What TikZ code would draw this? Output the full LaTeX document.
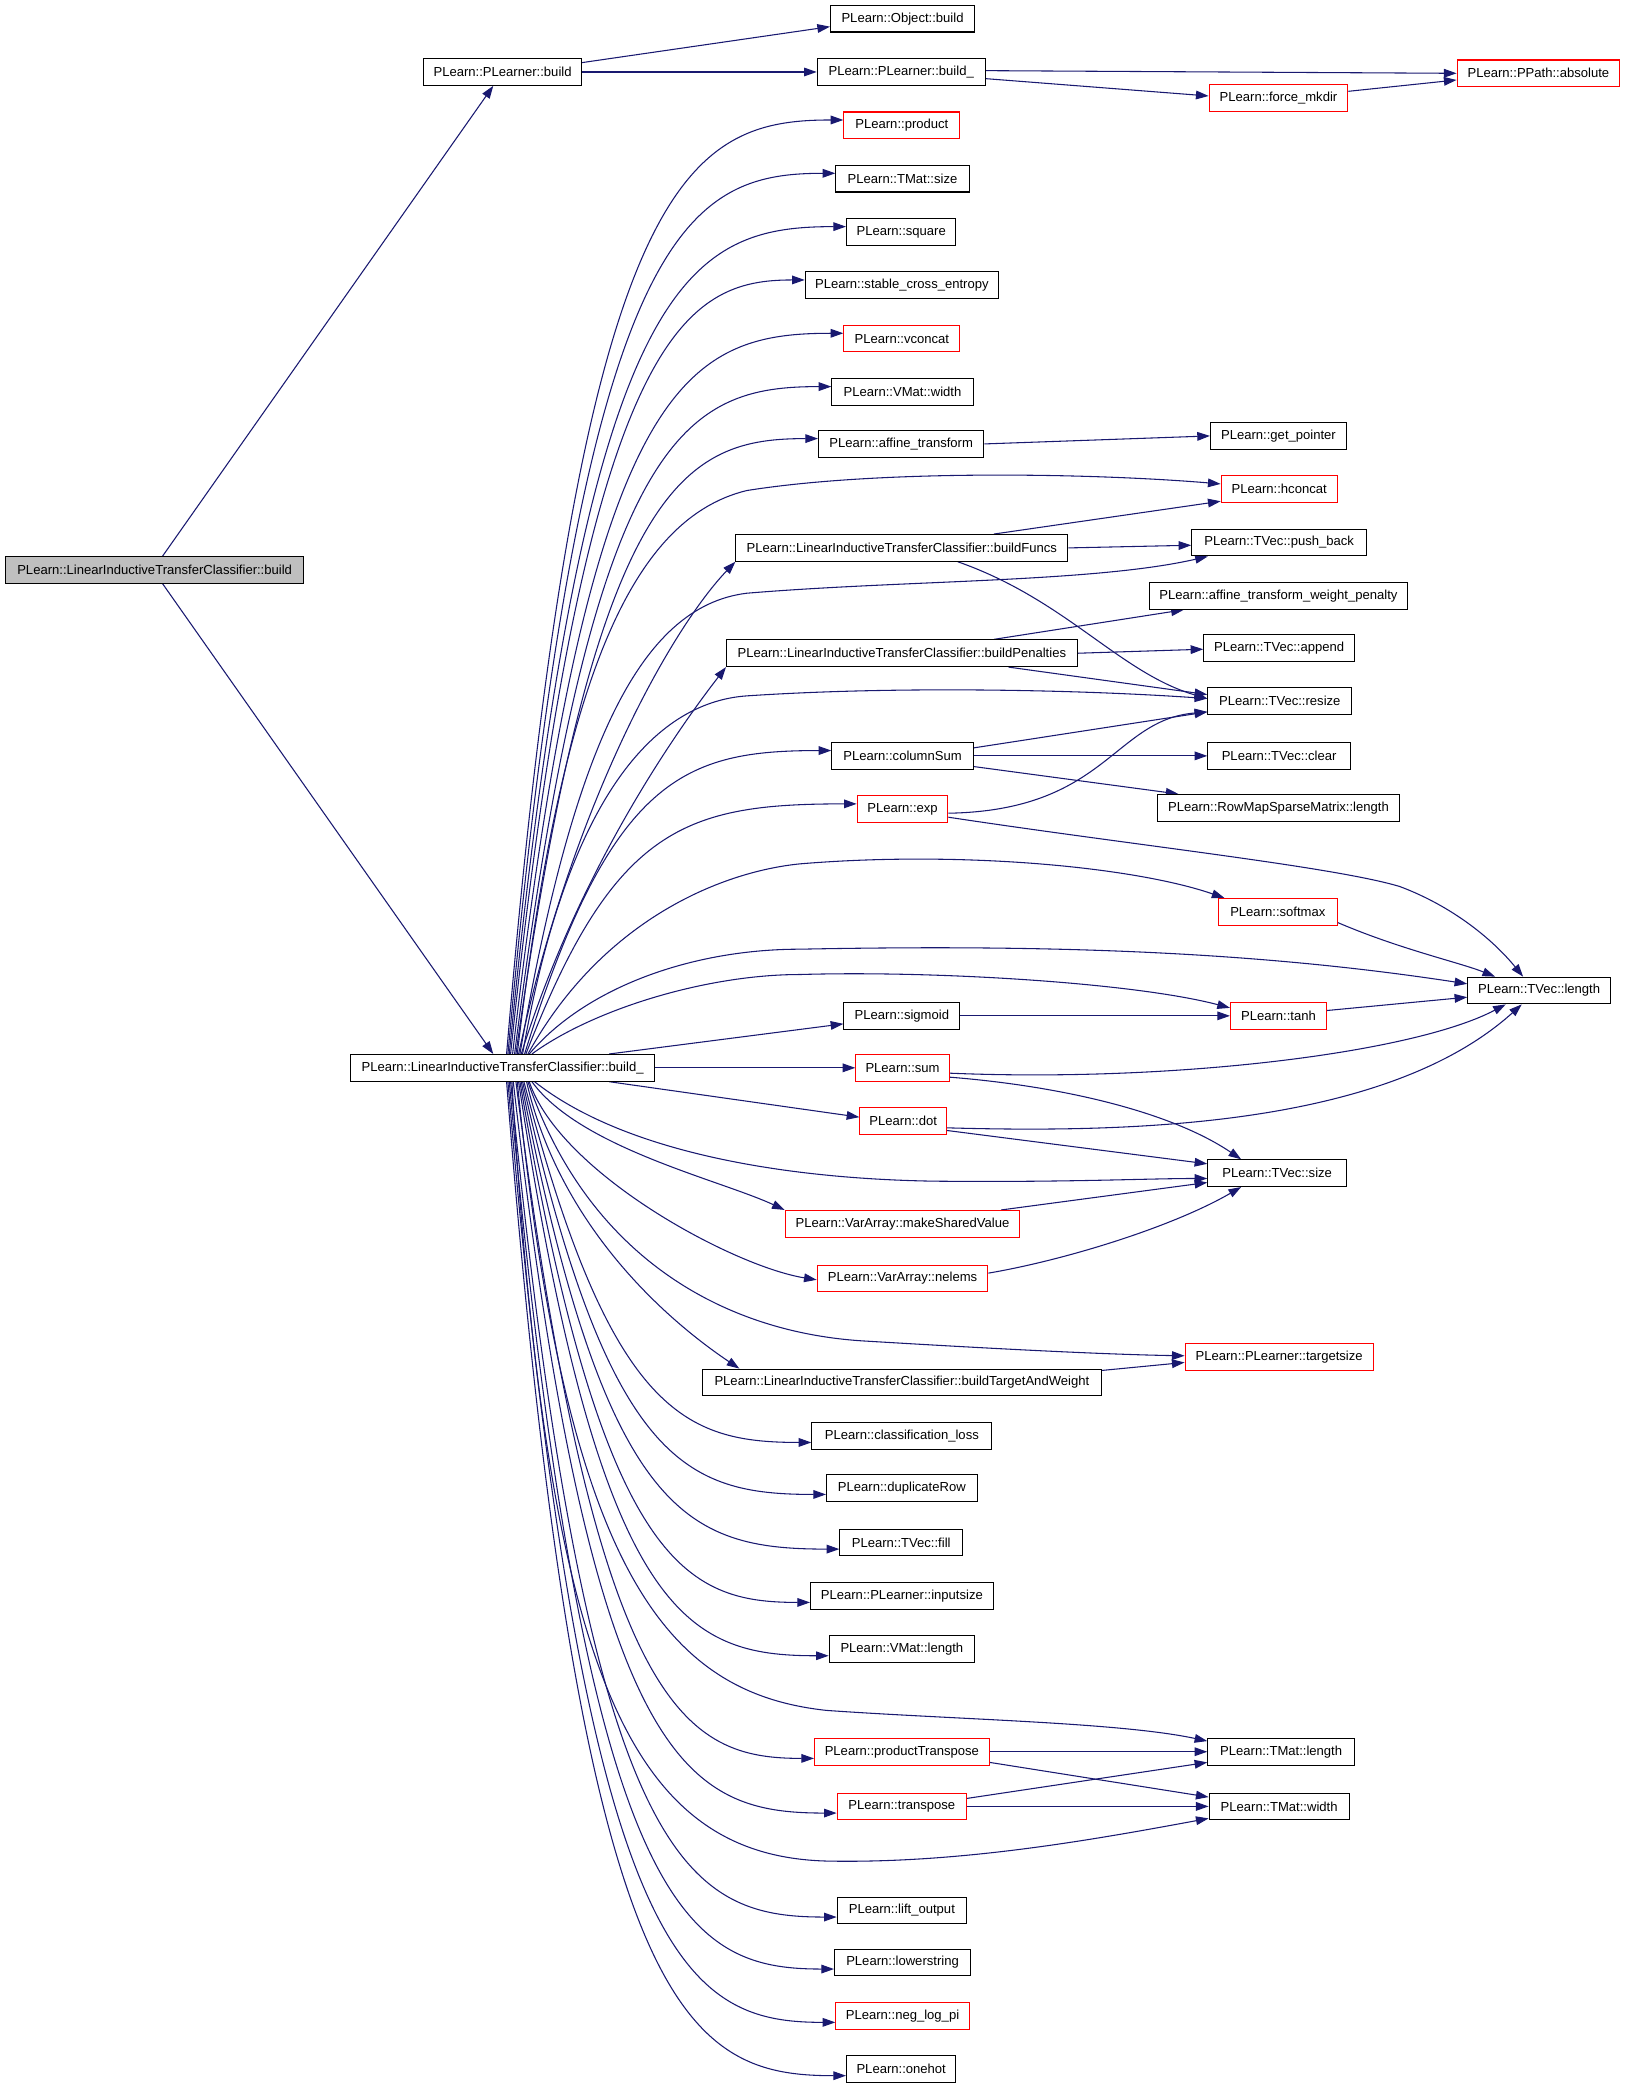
\documentclass[tikz,border=0pt]{standalone}
\usepackage{fontspec}
\setmainfont{Liberation Sans}
\usetikzlibrary{arrows.meta}
\definecolor{edgeblue}{HTML}{191970}
\definecolor{nodegrey}{HTML}{BFBFBF}
\pgfdeclarelayer{bg}
\pgfsetlayers{bg,main}
\tikzset{
  box/.style={draw=black, fill=white, line width=0.8pt, minimum height=20pt, inner xsep=2pt, inner ysep=0pt, font=\fontsize{9.8}{11}\selectfont},
  rbox/.style={box, draw=red},
  gbox/.style={box, fill=nodegrey},
  edge/.style={draw=edgeblue, line width=0.8pt, -{Triangle[length=9.5pt,width=6.5pt]}},
}
\newcommand\fanup[5]{\draw[edge] ([xshift=#2pt]bu.north) .. controls +(#3,#4) and +(#5,0) .. ([yshift=4pt]#1.west);}
\newcommand\fandown[5]{\draw[edge] ([xshift=#2pt]bu.south) .. controls +(#3,#4) and +(#5,0) .. ([yshift=-5pt]#1.west);}
\begin{document}
\begin{tikzpicture}[x=1pt,y=-1pt]
\useasboundingbox (0,0) rectangle (1222,1570);
% nodes
\node[gbox, minimum width=224pt] (main) at (116,427.5) {PLearn::LinearInductiveTransferClassifier::build};
\node[box, minimum width=118pt] (plb) at (377,54) {PLearn::PLearner::build};
\node[box, minimum width=108pt] (ob) at (677,14) {PLearn::Object::build};
\node[box, minimum width=126pt] (pbu) at (676,54) {PLearn::PLearner::build\_};
\node[rbox, minimum width=122pt] (abs) at (1154,55) {PLearn::PPath::absolute};
\node[rbox, minimum width=104pt] (fm) at (959,73.5) {PLearn::force\_mkdir};
\node[rbox, minimum width=87pt] (prod) at (676.5,94) {PLearn::product};
\node[box, minimum width=100pt] (tms) at (677,134) {PLearn::TMat::size};
\node[box, minimum width=82pt] (sq) at (676,174) {PLearn::square};
\node[box, minimum width=145pt] (sce) at (676.5,214) {PLearn::stable\_cross\_entropy};
\node[rbox, minimum width=87pt] (vc) at (676.5,254) {PLearn::vconcat};
\node[box, minimum width=106pt] (vmw) at (677,294) {PLearn::VMat::width};
\node[box, minimum width=124pt] (at) at (676,333) {PLearn::affine\_transform};
\node[box, minimum width=102pt] (gp) at (959,327) {PLearn::get\_pointer};
\node[rbox, minimum width=87pt] (hc) at (959.5,367) {PLearn::hconcat};
\node[box, minimum width=249pt] (bf) at (676.5,411) {PLearn::LinearInductiveTransferClassifier::buildFuncs};
\node[box, minimum width=131pt] (pbk) at (959.5,407) {PLearn::TVec::push\_back};
\node[box, minimum width=194pt] (atwp) at (959,447) {PLearn::affine\_transform\_weight\_penalty};
\node[box, minimum width=263pt] (bp) at (676.5,490) {PLearn::LinearInductiveTransferClassifier::buildPenalties};
\node[box, minimum width=113pt] (app) at (959.5,486) {PLearn::TVec::append};
\node[box, minimum width=108pt] (rs) at (960,526) {PLearn::TVec::resize};
\node[box, minimum width=106pt] (cs) at (677,567) {PLearn::columnSum};
\node[box, minimum width=107pt] (cl) at (959.5,567) {PLearn::TVec::clear};
\node[box, minimum width=182pt] (rm) at (959,606) {PLearn::RowMapSparseMatrix::length};
\node[rbox, minimum width=68pt] (exp) at (677,607) {PLearn::exp};
\node[rbox, minimum width=89pt] (sm) at (958.5,684) {PLearn::softmax};
\node[box, minimum width=107pt] (len) at (1154.5,743) {PLearn::TVec::length};
\node[box, minimum width=87pt] (sig) at (676.5,762) {PLearn::sigmoid};
\node[rbox, minimum width=72pt] (tanh) at (959,762) {PLearn::tanh};
\node[box, minimum width=228pt] (bu) at (377,801) {PLearn::LinearInductiveTransferClassifier::build\_};
\node[rbox, minimum width=70pt] (sum) at (677,801) {PLearn::sum};
\node[rbox, minimum width=65pt] (dot) at (677.5,841) {PLearn::dot};
\node[box, minimum width=104pt] (size) at (958,880) {PLearn::TVec::size};
\node[rbox, minimum width=176pt] (msv) at (677,918) {PLearn::VarArray::makeSharedValue};
\node[rbox, minimum width=128pt] (ne) at (677,959) {PLearn::VarArray::nelems};
\node[rbox, minimum width=141pt] (ts) at (959.5,1018) {PLearn::PLearner::targetsize};
\node[box, minimum width=299pt] (btw) at (676.5,1037) {PLearn::LinearInductiveTransferClassifier::buildTargetAndWeight};
\node[box, minimum width=135pt] (cls) at (676.5,1077) {PLearn::classification\_loss};
\node[box, minimum width=113pt] (dr) at (676.5,1116) {PLearn::duplicateRow};
\node[box, minimum width=92pt] (fill) at (676,1157) {PLearn::TVec::fill};
\node[box, minimum width=137pt] (ins) at (676.5,1197) {PLearn::PLearner::inputsize};
\node[box, minimum width=109pt] (vml) at (676.5,1237) {PLearn::VMat::length};
\node[rbox, minimum width=131pt] (pt) at (676.5,1314) {PLearn::productTranspose};
\node[box, minimum width=110pt] (tl) at (961,1314) {PLearn::TMat::length};
\node[rbox, minimum width=97pt] (tr) at (676.5,1355) {PLearn::transpose};
\node[box, minimum width=105pt] (tw) at (959.5,1355) {PLearn::TMat::width};
\node[box, minimum width=97pt] (lo) at (676.5,1433) {PLearn::lift\_output};
\node[box, minimum width=102pt] (ls) at (677,1472) {PLearn::lowerstring};
\node[rbox, minimum width=100pt] (nlp) at (677,1512) {PLearn::neg\_log\_pi};
\node[box, minimum width=82pt] (oh) at (676,1552) {PLearn::onehot};
% edges
\begin{pgfonlayer}{bg}
\draw[edge] ([xshift=6pt]main.north) -- ([xshift=-7pt]plb.south);
\draw[edge] ([xshift=6pt]main.south) -- ([xshift=-7pt]bu.north);
\draw[edge] ([yshift=7pt]plb.east) -- ([yshift=-6pt]ob.west);
\draw[edge] (plb.east) -- (pbu.west);
\draw[edge] ([yshift=1pt]pbu.east) -- (abs.west);
\draw[edge] ([yshift=-5pt]pbu.east) -- ([yshift=1.5pt]fm.west);
\draw[edge] ([yshift=5pt]fm.east) -- ([yshift=-5pt]abs.west);
\draw[edge] (at.east) -- (gp.west);
\draw[edge] ([xshift=69pt]bf.north) -- ([yshift=-9pt]hc.west);
\draw[edge] (bf.east) -- ([yshift=-2pt]pbk.west);
\draw[edge] ([xshift=42pt]bf.south) .. controls (800,450) and (840,505) .. ([yshift=2pt]rs.west);
\draw[edge] ([xshift=69pt]bp.north) -- ([xshift=-71pt]atwp.south);
\draw[edge] (bp.east) -- ([yshift=-1pt]app.west);
\draw[edge] ([xshift=80pt]bp.south) -- ([yshift=5pt]rs.west);
\draw[edge] ([yshift=6pt]cs.east) -- ([yshift=-8pt]rs.west);
\draw[edge] (cs.east) -- (cl.west);
\draw[edge] ([yshift=-8pt]cs.east) -- ([xshift=-75pt]rm.north);
\draw[edge] ([yshift=-3pt]exp.east) .. controls (830,608) and (835,540) .. ([yshift=-8pt]rs.west);
\draw[edge] ([yshift=-6pt]exp.east) .. controls (850,634) and (1000,650) .. (1050,665) .. controls (1090,680) and (1120,705) .. ([xshift=-12pt]len.north);
\draw[edge] ([yshift=-8pt]sm.east) .. controls (1050,712) and (1095,722) .. ([xshift=-33pt]len.north);
\draw[edge] ([yshift=4pt]tanh.east) -- ([yshift=-5pt]len.west);
\draw[edge] (sig.east) -- (tanh.west);
\draw[edge] ([yshift=-4pt]sum.east) .. controls (880,812) and (1060,790) .. ([xshift=-25pt]len.south);
\draw[edge] ([yshift=-7pt]sum.east) .. controls (800,815) and (880,835) .. ([xshift=-27pt]size.north);
\draw[edge] ([yshift=-5pt]dot.east) .. controls (850,850) and (1040,845) .. ([xshift=-13pt]len.south);
\draw[edge] ([yshift=-7pt]dot.east) -- ([yshift=7pt]size.west);
\draw[edge] ([xshift=74pt]msv.north) -- ([yshift=-7pt]size.west);
\draw[edge] ([yshift=4pt]ne.east) .. controls (800,945) and (880,920) .. ([xshift=-27pt]size.south);
\draw[edge] ([yshift=9pt]btw.east) -- ([yshift=-4pt]ts.west);
\draw[edge] (pt.east) -- (tl.west);
\draw[edge] ([yshift=-8pt]pt.east) -- ([yshift=7pt]tw.west);
\draw[edge] ([yshift=6pt]tr.east) -- ([yshift=-8pt]tl.west);
\draw[edge] (tr.east) -- (tw.west);
% upward fan from build_
\fanup{prod}{3}{55}{-658}{-118}
\fanup{tms}{4}{56}{-620}{-112}
\fanup{sq}{5}{57}{-582}{-120}
\fanup{sce}{6}{57}{-544}{-89}
\fanup{vc}{7.5}{58}{-506}{-118}
\fanup{vmw}{9}{59}{-468}{-109}
\fanup{at}{10}{60}{-431}{-99}
\fanup{cs}{16.5}{65}{-209}{-109}
\fanup{exp}{17.5}{66}{-171}{-128}
\draw[edge] ([xshift=11pt]bu.north) .. controls (420,520) and (470,390) .. (560,368) .. controls (660,352) and (820,355) .. ([yshift=4pt]hc.west);
\draw[edge] ([xshift=12pt]bu.north) .. controls (430,600) and (505,470) .. (bf.south west);
\draw[edge] ([xshift=13pt]bu.north) .. controls (430,560) and (480,455) .. (560,445) .. controls (680,435) and (820,437) .. ([xshift=-53.5pt]pbk.south);
\draw[edge] ([xshift=14pt]bu.north) .. controls (435,650) and (510,545) .. (bp.south west);
\draw[edge] ([xshift=15pt]bu.north) .. controls (425,600) and (490,527) .. (560,522) .. controls (680,514) and (820,518) .. ([yshift=2pt]rs.west);
\draw[edge] ([xshift=19pt]bu.north) .. controls (451,691) and (540,654) .. (600,648) .. controls (720,638) and (850,650) .. ([xshift=-40pt]sm.north);
\draw[edge] ([xshift=20pt]bu.north) .. controls (440,740) and (520,712) .. (600,712) .. controls (800,708) and (950,715) .. ([yshift=5pt]len.west);
\draw[edge] ([xshift=22pt]bu.north) .. controls (445,757) and (530,731) .. (600,731) .. controls (700,728) and (850,737) .. ([yshift=6pt]tanh.west);
\draw[edge] ([xshift=80pt]bu.north) -- ([yshift=-6pt]sig.west);
\draw[edge] (bu.east) -- (sum.west);
\draw[edge] ([xshift=80pt]bu.south) -- ([yshift=3pt]dot.west);
% downward fan from build_
\draw[edge] ([xshift=24pt]bu.south) .. controls (465,862) and (580,884) .. (700,886) .. controls (800,887) and (860,884) .. ([yshift=-4pt]size.west);
\draw[edge] ([xshift=22pt]bu.south) .. controls (435,861) and (540,885) .. (msv.north west);
\draw[edge] ([xshift=20pt]bu.south) .. controls (420,880) and (550,950) .. ([yshift=-1pt]ne.west);
\draw[edge] ([xshift=19pt]bu.south) .. controls (440,940) and (540,1000) .. (650,1006) .. controls (750,1012) and (830,1016) .. ([yshift=1pt]ts.west);
\draw[edge] ([xshift=18pt]bu.south) .. controls (420,920) and (500,990) .. ([xshift=28pt]btw.north west);
\fandown{cls}{16}{65}{250}{-94}
\fandown{dr}{15}{64}{287}{-105}
\fandown{fill}{14}{63}{326}{-115}
\fandown{ins}{13}{62}{364}{-93}
\fandown{vml}{12}{61}{402}{-107}
\draw[edge] ([xshift=11pt]bu.south) .. controls (425,1180) and (500,1270) .. (620,1283) .. controls (720,1290) and (840,1292) .. ([yshift=8pt]tl.west);
\fandown{pt}{10}{60}{475}{-96}
\fandown{tr}{8}{59}{514}{-113}
\draw[edge] ([xshift=7pt]bu.south) .. controls (410,1250) and (470,1392) .. (620,1396) .. controls (720,1398) and (820,1380) .. ([yshift=-9pt]tw.west);
\fandown{lo}{6}{58}{588}{-113}
\fandown{ls}{5}{57}{625}{-111}
\fandown{nlp}{4}{56}{663}{-112}
\fandown{oh}{3}{55}{701}{-120}
\end{pgfonlayer}
\end{tikzpicture}
\end{document}
